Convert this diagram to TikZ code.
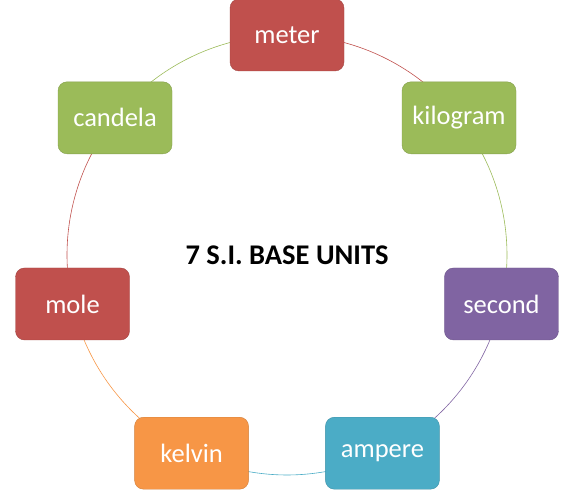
\documentclass[tikz,border=0pt]{standalone}
\usepackage{fontspec}
\setmainfont{Carlito}
\usepackage{tikz}
\usetikzlibrary{backgrounds}

\definecolor{unitred}{HTML}{C0504D}
\definecolor{unitgreen}{HTML}{9BBB59}
\definecolor{unitpurple}{HTML}{8064A2}
\definecolor{unitblue}{HTML}{4BACC6}
\definecolor{unitorange}{HTML}{F79646}

\tikzset{
  unitbox/.style={draw=#1!85!black, fill=#1, rounded corners=9pt,
    minimum width=114pt, minimum height=72pt, text=white,
    font=\fontsize{26.5}{30}\selectfont},
  ring/.style={draw=#1, line width=0.6pt}
}

\begin{document}
\begin{tikzpicture}[x=1pt,y=1pt]
  \useasboundingbox (0,0) rectangle (574,-492);
  % units placed round a circle, centre (287,-255), radius 220
  \coordinate (c) at (287,-255);
  \node[unitbox=unitred]    (meter)    at ([shift={(90:220)}]c)      {meter};
  \node[unitbox=unitgreen]  (kilogram) at ([shift={(38.57:220)}]c)   {kilogram};
  \node[unitbox=unitpurple] (second)   at ([shift={(-12.86:220)}]c)  {second};
  \node[unitbox=unitblue]   (ampere)   at ([shift={(-64.29:220)}]c)  {ampere};
  \node[unitbox=unitorange] (kelvin)   at ([shift={(-115.71:220)}]c) {kelvin};
  \node[unitbox=unitred]    (mole)     at ([shift={(-167.14:220)}]c) {mole};
  \node[unitbox=unitgreen]  (candela)  at ([shift={(141.43:220)}]c)  {candela};

  % title
  \node[font=\bfseries\fontsize{28.5}{32}\selectfont] (title) at (287,-255) {7 S.I. BASE UNITS};

  % ring segments, behind the boxes
  \begin{pgfonlayer}{background}
    \draw[ring=unitred]    (meter.center)    arc[start angle=90,      end angle=38.57,   radius=220];
    \draw[ring=unitgreen]  (kilogram.center) arc[start angle=38.57,   end angle=-12.86,  radius=220];
    \draw[ring=unitpurple] (second.center)   arc[start angle=-12.86,  end angle=-64.29,  radius=220];
    \draw[ring=unitblue]   (ampere.center)   arc[start angle=-64.29,  end angle=-115.71, radius=220];
    \draw[ring=unitorange] (kelvin.center)   arc[start angle=-115.71, end angle=-167.14, radius=220];
    \draw[ring=unitred]    (mole.center)     arc[start angle=-167.14, end angle=-218.57, radius=220];
    \draw[ring=unitgreen]  (candela.center)  arc[start angle=141.43,  end angle=90,      radius=220];
  \end{pgfonlayer}
\end{tikzpicture}
\end{document}
